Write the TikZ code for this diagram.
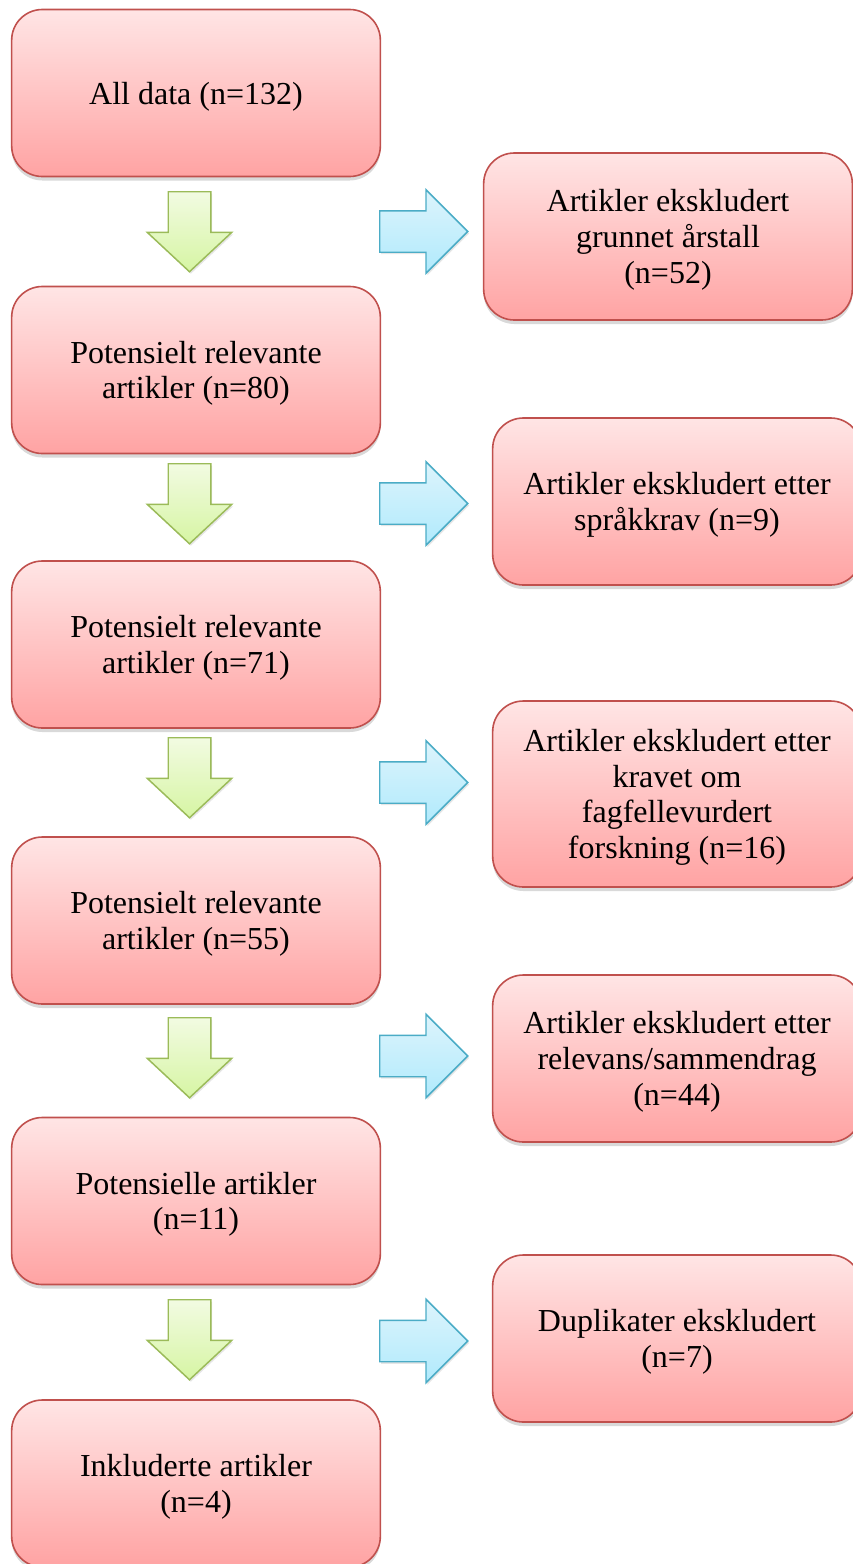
\documentclass[tikz,border=0pt]{standalone}
\usepackage{fontspec}
\setmainfont{Liberation Serif}
\usepackage{tikz}
\usetikzlibrary{shapes.arrows,shadows}

\definecolor{boxtop}{RGB}{255,229,229}
\definecolor{boxbot}{RGB}{255,163,163}
\definecolor{boxline}{RGB}{192,80,77}
\definecolor{grntop}{RGB}{242,251,226}
\definecolor{grnbot}{RGB}{214,245,163}
\definecolor{grnline}{RGB}{155,187,89}
\definecolor{blutop}{RGB}{221,244,252}
\definecolor{blubot}{RGB}{176,234,252}
\definecolor{bluline}{RGB}{75,172,198}

\begin{document}
\begin{tikzpicture}[x=0.75pt, y=-0.75pt,
    stagebox/.style={draw=boxline, line width=1.2pt, rounded corners=23pt,
                 top color=boxtop, bottom color=boxbot,
                 minimum width=276.5pt, minimum height=125.25pt, inner sep=0pt,
                 font=\fontsize{24}{26.8}\selectfont, align=center, text depth=0pt,
                 drop shadow={shadow xshift=0pt, shadow yshift=-3pt, opacity=0.3}},
    dnarrow/.style={single arrow, shape border rotate=270, draw=grnline, line width=1.1pt,
                 top color=grntop, bottom color=grnbot, inner xsep=15.4pt, inner ysep=0pt,
                 minimum height=60pt,
                 single arrow head extend=15.75pt, single arrow tip angle=94,
                 drop shadow={shadow xshift=1pt, shadow yshift=-1.5pt, opacity=0.2}},
    rtarrow/.style={single arrow, draw=bluline, line width=1.1pt,
                 top color=blutop, bottom color=blubot, inner xsep=0pt, inner ysep=15pt,
                 minimum height=66pt,
                 single arrow head extend=15.75pt, single arrow tip angle=90,
                 drop shadow={shadow xshift=1pt, shadow yshift=-1.5pt, opacity=0.2}},
]
\useasboundingbox (0,0) rectangle (853,1564);

% left column
\node[stagebox] (data)  at (196,93)     {All data (n=132)};
\node[stagebox] (pot80) at (196,370)    {Potensielt relevante\\artikler (n=80)};
\node[stagebox] (pot71) at (196,644.5)  {Potensielt relevante\\artikler (n=71)};
\node[stagebox] (pot55) at (196,920.5)  {Potensielt relevante\\artikler (n=55)};
\node[stagebox] (pot11) at (196,1201)   {Potensielle artikler\\(n=11)};
\node[stagebox] (incl)  at (196,1483.5) {Inkluderte artikler\\(n=4)};

% right column
\node[stagebox] (ex52) at (668,236.5)  {Artikler ekskludert\\grunnet årstall\\(n=52)};
\node[stagebox] (ex9)  at (677,501.5)  {Artikler ekskludert etter\\språkkrav (n=9)};
\node[stagebox, minimum height=139.5pt] (ex16) at (677,794)
    {Artikler ekskludert etter\\kravet om\\fagfellevurdert\\forskning (n=16)};
\node[stagebox] (ex44) at (677,1058.5) {Artikler ekskludert etter\\relevans/sammendrag\\(n=44)};
\node[stagebox] (ex7)  at (677,1338.5) {Duplikater ekskludert\\(n=7)};

% block arrows
\node[dnarrow, anchor=tail] (dn1) at (189.5,191)  {};
\node[dnarrow, anchor=tail] (dn2) at (189.5,463)  {};
\node[dnarrow, anchor=tail] (dn3) at (189.5,737)  {};
\node[dnarrow, anchor=tail] (dn4) at (189.5,1017) {};
\node[dnarrow, anchor=tail] (dn5) at (189.5,1299) {};

\node[rtarrow, anchor=tail] (rt1) at (379,231.5)  {};
\node[rtarrow, anchor=tail] (rt2) at (379,503.5)  {};
\node[rtarrow, anchor=tail] (rt3) at (379,782.5)  {};
\node[rtarrow, anchor=tail] (rt4) at (379,1056)   {};
\node[rtarrow, anchor=tail] (rt5) at (379,1341)   {};
\end{tikzpicture}
\end{document}
